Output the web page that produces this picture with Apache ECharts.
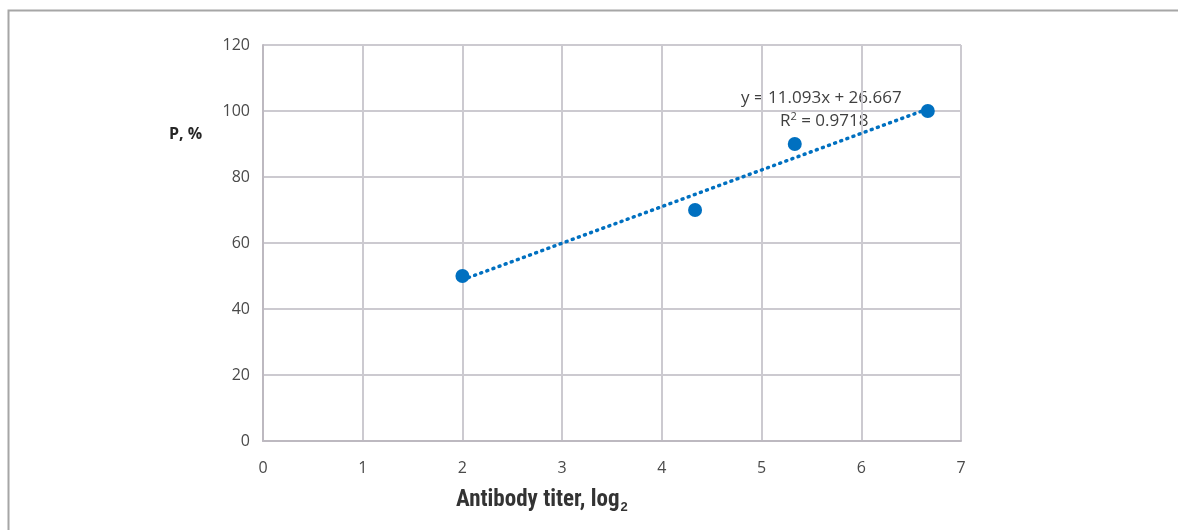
<!DOCTYPE html>
<html>
<head>
<meta charset="utf-8">
<script src="https://cdn.jsdelivr.net/npm/echarts@6/dist/echarts.min.js"></script>
<style>
  html, body { margin: 0; padding: 0; background: #fff; }
  #chart { width: 1178px; height: 530px; }
</style>
</head>
<body>
<div id="chart"></div>
<script>
// Antibody titer (log2) vs protection P, %
const titerLog2 = [2, 4.333, 5.333, 6.667];
const protection = [50, 70, 90, 100];

// Linear trend fit shown on the chart
const trendSlope = 11.093;
const trendIntercept = 26.667;
const trendR2 = 0.9718;

const xTicks = [0, 1, 2, 3, 4, 5, 6, 7];
const yTicks = [0, 20, 40, 60, 80, 100, 120];

const points = titerLog2.map((x, i) => [x, protection[i]]);
const xMin = Math.min(...titerLog2), xMax = Math.max(...titerLog2);
const trend = [
  [xMin, trendSlope * xMin + trendIntercept],
  [xMax, trendSlope * xMax + trendIntercept]
];

const gridColor = '#cccad0';
const tickFont = { color: '#4a4a4a', fontSize: 16, fontFamily: 'Open Sans' };
const chart = echarts.init(document.getElementById('chart'));
chart.setOption({
  animation: false,
  backgroundColor: '#fff',
  grid: { left: 263, right: 217, top: 45, bottom: 89 },
  xAxis: {
    type: 'value', min: xTicks[0], max: xTicks[xTicks.length - 1], interval: 1,
    axisLine: { show: true, lineStyle: { color: '#bdb9c0', width: 2 } },
    axisTick: { show: false },
    axisLabel: Object.assign({ margin: 19 }, tickFont),
    splitLine: { show: true, lineStyle: { color: gridColor, width: 2 } }
  },
  yAxis: {
    type: 'value', min: yTicks[0], max: yTicks[yTicks.length - 1], interval: 20,
    axisLine: { show: true, lineStyle: { color: '#bdb9c0', width: 2 } },
    axisTick: { show: false },
    axisLabel: Object.assign({ margin: 13 }, tickFont),
    splitLine: { show: true, lineStyle: { color: gridColor, width: 2 } }
  },
  series: [
    {
      type: 'line', data: trend, symbol: 'none', silent: true,
      lineStyle: { color: '#0070C0', width: 3.5, type: [1, 5.5], cap: 'round', opacity: 1 },
      z: 2
    },
    {
      type: 'scatter', data: points, symbol: 'circle', symbolSize: 14,
      itemStyle: { color: '#0070C0', opacity: 1 }, z: 3
    }
  ],
  graphic: [
    {
      type: 'rect', left: 6, top: 8, silent: true,
      shape: { width: 1300, height: 700 },
      style: { fill: 'none', stroke: '#a6a6a6', lineWidth: 2 }
    },
    {
      type: 'text', left: 169, top: 126,
      style: { text: 'P, %', font: 'bold 16px "Open Sans"', fill: '#262626' }
    },
    {
      type: 'text', left: 741, top: 90,
      style: { text: 'y = 11.093x + 26.667', font: '17px "Open Sans"', fill: '#404040' }
    },
    {
      type: 'text', left: 780, top: 111,
      style: {
        text: '{r|R}{s|2}{r| = ' + trendR2.toFixed(4) + '}',
        rich: {
          r: { font: '17px "Open Sans"', fill: '#404040', lineHeight: 24 },
          s: { font: '11px "Open Sans"', fill: '#404040', lineHeight: 24, padding: [0, 0, 10, 0] }
        }
      }
    },
    {
      type: 'text', left: 456, top: 487,
      style: {
        text: '{t|Antibody titer, log}{sub|2}',
        rich: {
          t: { font: 'bold 23px "Liberation Sans Narrow", "Roboto Condensed", sans-serif', fill: '#333', lineHeight: 28 },
          sub: { font: 'bold 13px "Liberation Sans Narrow", sans-serif', fill: '#333', lineHeight: 28, padding: [14, 0, 0, 1] }
        }
      }
    }
  ]
});
</script>
</body>
</html>
